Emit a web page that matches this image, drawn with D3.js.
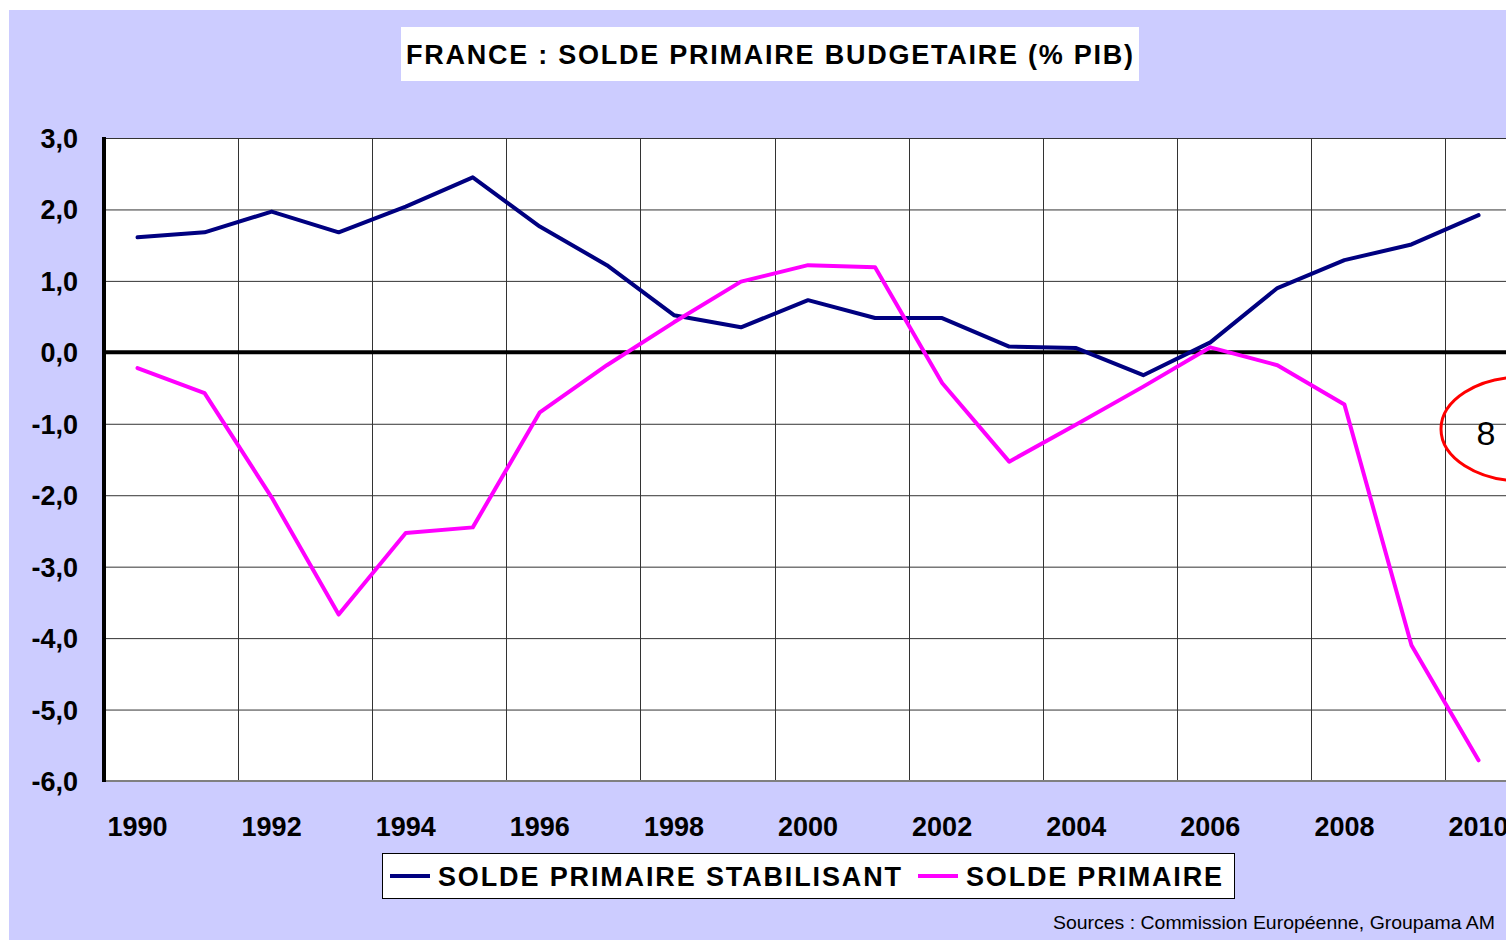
<!DOCTYPE html>
<html>
<head>
<meta charset="utf-8">
<script src="https://cdn.jsdelivr.net/npm/d3@7"></script>
<style>
  body { margin: 0; background: #fff; }
  svg text { font-family: "Liberation Sans", Arial, sans-serif; }
</style>
</head>
<body>
<div id="chart"></div>
<script>
// annees et valeurs (% PIB)
var annees = d3.range(1990, 2011);
var soldeStabilisant = [1.61, 1.68, 1.97, 1.68, 2.04, 2.45, 1.76, 1.22, 0.52, 0.35, 0.73,
                        0.48, 0.48, 0.08, 0.06, -0.32, 0.14, 0.90, 1.29, 1.51, 1.92];
var soldePrimaire = [-0.22, -0.57, -2.03, -3.67, -2.53, -2.45, -0.84, -0.18, 0.42, 0.99, 1.22,
                     1.19, -0.43, -1.53, -1.01, -0.48, 0.07, -0.18, -0.73, -4.10, -5.71];
var ticksY = [3, 2, 1, 0, -1, -2, -3, -4, -5, -6];
var series = [
    {nom: "SOLDE PRIMAIRE STABILISANT", valeurs: soldeStabilisant, couleur: "#000080"},
    {nom: "SOLDE PRIMAIRE", valeurs: soldePrimaire, couleur: "#ff00ff"}
];

var W = 1506, H = 940;
var svg = d3.select("#chart").append("svg").attr("width", W).attr("height", H);

// fond lavande
svg.append("rect").attr("x", 9).attr("y", 10).attr("width", W - 9).attr("height", H - 10)
        .attr("fill", "#ccccff");

var margin = {top: 138, left: 104, bottom: 781};
var x = d3.scaleBand().domain(annees).range([margin.left, margin.left + 21 * 67.05]);
var y = d3.scaleLinear().domain([-6, 3]).range([margin.bottom, margin.top]);

var fr = d3.formatLocale({decimal: ",", thousands: " ", grouping: [3], currency: ["", "€"], minus: "-"});
var fmt = fr.format(".1f");

// zone de tracé
svg.append("rect").attr("x", margin.left).attr("y", margin.top)
        .attr("width", W - margin.left).attr("height", margin.bottom - margin.top)
        .attr("fill", "#fff");

// quadrillage horizontal
svg.append("g").selectAll("line").data(ticksY.filter(function (d) { return d !== 0 && d !== -6; }))
        .enter().append("line")
        .attr("x1", margin.left).attr("x2", W)
        .attr("y1", function (d) { return y(d) + 0.5; })
        .attr("y2", function (d) { return y(d) + 0.5; })
        .attr("stroke", "#333").attr("stroke-width", 1);

// quadrillage vertical (toutes les 2 annees)
var bornes = annees.filter(function (d, i) { return i % 2 === 0 && i > 0; });
svg.append("g").selectAll("line").data(bornes)
        .enter().append("line")
        .attr("x1", function (d) { return Math.round(x(d)) + 0.5; })
        .attr("x2", function (d) { return Math.round(x(d)) + 0.5; })
        .attr("y1", margin.top).attr("y2", margin.bottom)
        .attr("stroke", "#333").attr("stroke-width", 1);

// axe bas
svg.append("line").attr("x1", margin.left).attr("x2", W)
        .attr("y1", y(-6)).attr("y2", y(-6))
        .attr("stroke", "#808080").attr("stroke-width", 2);

// ligne zero
svg.append("line").attr("x1", margin.left).attr("x2", W)
        .attr("y1", y(0)).attr("y2", y(0))
        .attr("stroke", "#000").attr("stroke-width", 4);

// axe gauche
svg.append("line").attr("x1", margin.left).attr("x2", margin.left)
        .attr("y1", margin.top - 1).attr("y2", margin.bottom + 1)
        .attr("stroke", "#000").attr("stroke-width", 4);

// libelles y
svg.append("g").selectAll("text").data(ticksY).enter().append("text")
        .attr("x", 78).attr("y", function (d) { return y(d) + 10; })
        .attr("text-anchor", "end")
        .attr("font-size", 27).attr("font-weight", "bold")
        .text(function (d) { return fmt(d); });

// libelles x
svg.append("g").selectAll("text").data(annees.filter(function (d, i) { return i % 2 === 0; }))
        .enter().append("text")
        .attr("x", function (d) { return x(d) + x.bandwidth() / 2; })
        .attr("y", 836)
        .attr("text-anchor", "middle")
        .attr("font-size", 27).attr("font-weight", "bold")
        .text(function (d) { return d; });

// courbes
var line = d3.line()
        .x(function (d, i) { return x(annees[i]) + x.bandwidth() / 2; })
        .y(function (d) { return y(d); });

svg.append("g").selectAll("path").data(series).enter().append("path")
        .attr("fill", "none")
        .attr("stroke", function (d) { return d.couleur; })
        .attr("stroke-width", 4)
        .attr("stroke-linejoin", "round")
        .attr("stroke-linecap", "round")
        .attr("d", function (d) { return line(d.valeurs); });

// titre
svg.append("rect").attr("x", 401).attr("y", 27).attr("width", 738).attr("height", 54)
        .attr("fill", "#fff");
svg.append("text").attr("x", 406).attr("y", 64)
        .attr("font-size", 27).attr("font-weight", "bold")
        .attr("textLength", 727).attr("lengthAdjust", "spacing")
        .text("FRANCE : SOLDE PRIMAIRE BUDGETAIRE (% PIB)");

// legende
svg.append("rect").attr("x", 382.5).attr("y", 853.5).attr("width", 852).attr("height", 45)
        .attr("fill", "#fff").attr("stroke", "#000").attr("stroke-width", 1);
var leg = [
    {s: series[0], x1: 390, tx: 438, len: 463},
    {s: series[1], x1: 918, tx: 966, len: 256}
];
leg.forEach(function (l) {
    svg.append("line").attr("x1", l.x1).attr("x2", l.x1 + 40)
            .attr("y1", 876).attr("y2", 876)
            .attr("stroke", l.s.couleur).attr("stroke-width", 4);
    svg.append("text").attr("x", l.tx).attr("y", 886)
            .attr("font-size", 27).attr("font-weight", "bold")
            .attr("textLength", l.len).attr("lengthAdjust", "spacing")
            .text(l.s.nom);
});

// sources
svg.append("text").attr("x", 1053).attr("y", 929)
        .attr("font-family", "'Liberation Sans Narrow', 'Liberation Sans', sans-serif")
        .attr("font-size", 19)
        .attr("textLength", 442).attr("lengthAdjust", "spacingAndGlyphs")
        .text("Sources : Commission Européenne, Groupama AM");

// annotation (page 8)
svg.append("ellipse").attr("cx", 1522).attr("cy", 429).attr("rx", 81).attr("ry", 52)
        .attr("fill", "none").attr("stroke", "#ff0000").attr("stroke-width", 3);
svg.append("text").attr("x", 1486).attr("y", 445)
        .attr("text-anchor", "middle")
        .attr("font-size", 34)
        .text("8");
</script>
</body>
</html>
